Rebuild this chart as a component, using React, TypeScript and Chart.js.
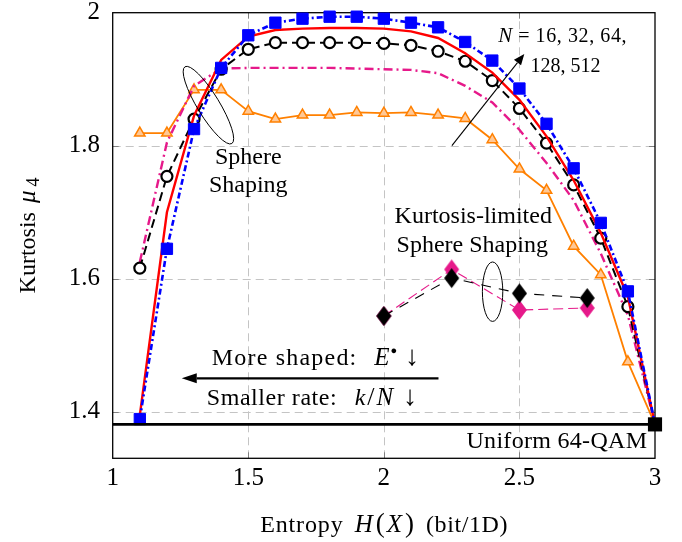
import { useEffect, useRef } from 'react';
import { Chart, registerables } from 'chart.js';

Chart.register(...registerables);

// ---- data ----
const entropy = [1.1, 1.2, 1.3, 1.4, 1.5, 1.6, 1.7, 1.8, 1.9, 2.0, 2.1, 2.2, 2.3, 2.4, 2.5, 2.6, 2.7, 2.8, 2.9, 3.0];
const kurtN512 = [1.389, 1.645, 1.825, 1.917, 1.966, 1.985, 1.991, 1.994, 1.994, 1.991, 1.985, 1.978, 1.956, 1.928, 1.886, 1.833, 1.766, 1.684, 1.581, 1.381];
const kurtN128 = [1.395, 1.700, 1.845, 1.929, 1.964, 1.974, 1.976, 1.977, 1.977, 1.976, 1.972, 1.962, 1.939, 1.910, 1.869, 1.814, 1.748, 1.669, 1.573, 1.381];
const kurtN64 = [1.616, 1.754, 1.840, 1.915, 1.945, 1.955, 1.955, 1.955, 1.955, 1.954, 1.951, 1.942, 1.927, 1.898, 1.856, 1.804, 1.741, 1.661, 1.558, 1.381];
const kurtN32 = [1.625, 1.805, 1.890, 1.916, 1.917, 1.917, 1.917, 1.917, 1.916, 1.915, 1.914, 1.909, 1.890, 1.865, 1.824, 1.774, 1.718, 1.638, 1.545, 1.381];
const kurtN16 = [1.819, 1.819, 1.884, 1.884, 1.852, 1.840, 1.846, 1.846, 1.850, 1.849, 1.850, 1.846, 1.841, 1.809, 1.765, 1.733, 1.649, 1.606, 1.475, 1.381];
const klssEntropy = [2.0, 2.25, 2.5, 2.75];
const klssBlack = [1.544, 1.601, 1.578, 1.571];
const klssMagenta = [1.544, 1.614, 1.553, 1.556];
const uniformEntropy = [1, 3];
const uniformKurtosis = [1.381, 1.381];
const xGridValues = [1.5, 2, 2.5];
const yGridValues = [1.4, 1.6, 1.8];

const SERIF = '"Liberation Serif", "Times New Roman", serif';
const MAGENTA = '#e6198a';
const ORANGE = '#ff8000';

const pts = (xs: number[], ys: number[]) => xs.map((x, i) => ({ x, y: ys[i] }));

function makeDiamond(color: string, w: number, h: number) {
  const c = document.createElement('canvas');
  c.width = w + 2;
  c.height = h + 2;
  const g = c.getContext('2d')!;
  g.fillStyle = color;
  g.beginPath();
  g.moveTo(w / 2 + 1, 1);
  g.lineTo(w + 1, h / 2 + 1);
  g.lineTo(w / 2 + 1, h + 1);
  g.lineTo(1, h / 2 + 1);
  g.closePath();
  g.fill();
  return c;
}

type Part = { t: string; it?: boolean; size?: number; dy?: number; ls?: number; gap?: number };

function drawParts(ctx: CanvasRenderingContext2D, parts: Part[], x: number, y: number, align: 'left' | 'center' | 'right', base = 24) {
  const fontOf = (p: Part) => `${p.it ? 'italic ' : ''}${p.size || base}px ${SERIF}`;
  const widthOf = (p: Part) => {
    ctx.font = fontOf(p);
    if (p.ls) {
      let w = 0;
      for (const ch of p.t) w += ctx.measureText(ch).width + p.ls;
      return w - p.ls;
    }
    return ctx.measureText(p.t).width;
  };
  const widths = parts.map((p) => widthOf(p) + (p.gap || 0));
  const total = widths.reduce((a, b) => a + b, 0);
  let cx = align === 'left' ? x : align === 'center' ? x - total / 2 : x - total;
  ctx.textAlign = 'left';
  ctx.textBaseline = 'alphabetic';
  parts.forEach((p, i) => {
    ctx.font = fontOf(p);
    if (p.ls) {
      let px = cx;
      for (const ch of p.t) {
        ctx.fillText(ch, px, y + (p.dy || 0));
        px += ctx.measureText(ch).width + p.ls;
      }
    } else {
      ctx.fillText(p.t, cx, y + (p.dy || 0));
    }
    cx += widths[i];
  });
}

function arrow(ctx: CanvasRenderingContext2D, x1: number, y1: number, x2: number, y2: number, lw: number, headLen: number, headHalf: number) {
  const ang = Math.atan2(y2 - y1, x2 - x1);
  const bx = x2 - Math.cos(ang) * headLen;
  const by = y2 - Math.sin(ang) * headLen;
  ctx.save();
  ctx.strokeStyle = '#000';
  ctx.fillStyle = '#000';
  ctx.lineWidth = lw;
  ctx.beginPath();
  ctx.moveTo(x1, y1);
  ctx.lineTo(bx, by);
  ctx.stroke();
  ctx.beginPath();
  ctx.moveTo(x2, y2);
  ctx.lineTo(bx + Math.sin(ang) * headHalf, by - Math.cos(ang) * headHalf);
  ctx.lineTo(bx - Math.sin(ang) * headHalf, by + Math.cos(ang) * headHalf);
  ctx.closePath();
  ctx.fill();
  ctx.restore();
}

const framePlugin = {
  id: 'frame',
  beforeDatasetsDraw(chart: any) {
    const { ctx, chartArea: a, scales } = chart;
    const xs = scales.x;
    const ys = scales.y;
    ctx.save();
    ctx.strokeStyle = '#c4c4c4';
    ctx.lineWidth = 1;
    ctx.setLineDash([8, 5]);
    xGridValues.forEach((v) => {
      const px = Math.round(xs.getPixelForValue(v)) + 0.5;
      ctx.beginPath();
      ctx.moveTo(px, a.bottom);
      ctx.lineTo(px, a.top);
      ctx.stroke();
    });
    yGridValues.forEach((v) => {
      const py = Math.round(ys.getPixelForValue(v)) + 0.5;
      ctx.beginPath();
      ctx.moveTo(a.left, py);
      ctx.lineTo(a.right, py);
      ctx.stroke();
    });
    ctx.setLineDash([]);
    ctx.strokeStyle = '#808080';
    xGridValues.forEach((v) => {
      const px = Math.round(xs.getPixelForValue(v)) + 0.5;
      ctx.beginPath();
      ctx.moveTo(px, a.bottom);
      ctx.lineTo(px, a.bottom - 6);
      ctx.moveTo(px, a.top);
      ctx.lineTo(px, a.top + 6);
      ctx.stroke();
    });
    yGridValues.forEach((v) => {
      const py = Math.round(ys.getPixelForValue(v)) + 0.5;
      ctx.beginPath();
      ctx.moveTo(a.left, py);
      ctx.lineTo(a.left + 6, py);
      ctx.moveTo(a.right, py);
      ctx.lineTo(a.right - 6, py);
      ctx.stroke();
    });
    ctx.strokeStyle = '#000';
    ctx.lineWidth = 1.3;
    ctx.strokeRect(a.left, a.top, a.right - a.left, a.bottom - a.top);
    ctx.restore();
  },
  afterDraw(chart: any) {
    const { ctx, chartArea: a, scales } = chart;
    const X = (v: number) => scales.x.getPixelForValue(v);
    const Y = (v: number) => scales.y.getPixelForValue(v);
    ctx.save();
    ctx.fillStyle = '#000';
    ctx.strokeStyle = '#000';

    // Ellipse around sphere-shaping curves
    ctx.lineWidth = 1;
    ctx.beginPath();
    ctx.ellipse(X(1.353), Y(1.861), 45, 11, (58.6 * Math.PI) / 180, 0, Math.PI * 2);
    ctx.stroke();
    drawParts(ctx, [{ t: 'Sphere' }], X(1.5), Y(1.772), 'center');
    drawParts(ctx, [{ t: 'Shaping' }], X(1.5), Y(1.730), 'center');

    // N arrow
    arrow(ctx, X(2.251), Y(1.8), X(2.518), Y(1.938), 1.1, 11, 4.5);
    drawParts(ctx, [{ t: 'N', it: true, size: 21, gap: 6 }, { t: '=', gap: 6 }, { t: '16, 32, 64,', ls: 0.6 }], X(2.422), Y(1.956), 'left', 20);
    drawParts(ctx, [{ t: '128, 512' }], X(2.541), Y(1.9113), 'left', 20);

    // Kurtosis-limited
    drawParts(ctx, [{ t: 'Kurtosis-limited' }], X(2.3296), Y(1.6833), 'center');
    drawParts(ctx, [{ t: 'Sphere Shaping' }], X(2.326), Y(1.6406), 'center');
    ctx.lineWidth = 1;
    ctx.beginPath();
    ctx.ellipse(X(2.401), Y(1.5805), 10.2, 29.7, 0, 0, Math.PI * 2);
    ctx.stroke();

    // More shaped / smaller rate
    drawParts(
      ctx,
      [
        { t: 'More shaped:', ls: 1.2, gap: 18 },
        { t: 'E', it: true, size: 25, gap: 1 },
        { t: '\u25cf', size: 11, dy: -11, gap: 8 },
        { t: '\u2193', size: 28 },
      ],
      X(1.3653),
      Y(1.4702),
      'left'
    );
    arrow(ctx, X(2.2015), Y(1.4502), X(1.2546), Y(1.4502), 2.4, 15, 5);
    drawParts(
      ctx,
      [
        { t: 'Smaller rate:', ls: 0.55, gap: 18 },
        { t: 'k', it: true, gap: 2 },
        { t: '/', size: 26, gap: 2 },
        { t: 'N', it: true, size: 25, gap: 10 },
        { t: '\u2193', size: 28 },
      ],
      X(1.347),
      Y(1.41),
      'left'
    );

    // Uniform label
    drawParts(ctx, [{ t: 'Uniform 64-QAM', ls: 0.3 }], X(2.9705), Y(1.345), 'right');

    // Axis titles
    drawParts(
      ctx,
      [
        { t: 'Entropy', ls: 0.85, gap: 12 },
        { t: 'H', it: true, size: 25, gap: 3 },
        { t: '(', size: 27, gap: 2 },
        { t: 'X', it: true, size: 25, gap: 3 },
        { t: ')', size: 27, gap: 12 },
        { t: '(bit/1D)', ls: 0.6 },
      ],
      (a.left + a.right) / 2,
      532,
      'center'
    );
    ctx.save();
    ctx.translate(35, (a.top + a.bottom) / 2);
    ctx.rotate(-Math.PI / 2);
    drawParts(ctx, [{ t: 'Kurtosis', gap: 9 }, { t: '\u03bc', it: true, size: 25, gap: 4 }, { t: '4', size: 18, dy: 4 }], 0, 0, 'center');
    ctx.restore();
    ctx.restore();
  },
};

export default function App() {
  const ref = useRef<HTMLCanvasElement>(null);
  useEffect(() => {
    if (!ref.current) return;
    const blackDiamond = makeDiamond('#000', 15, 20);
    const magentaDiamond = makeDiamond(MAGENTA, 15, 20);
    const chart = new Chart(ref.current, {
      type: 'line',
      data: {
        datasets: [
          {
            label: 'Uniform 64-QAM',
            data: pts(uniformEntropy, uniformKurtosis),
            borderColor: '#000',
            borderWidth: 2.8,
            pointStyle: 'rect',
            pointRadius: [0, 10],
            pointBackgroundColor: '#000',
            pointBorderWidth: 0,
            order: 0,
          },
          {
            label: 'KLSS black',
            data: pts(klssEntropy, klssBlack),
            borderColor: '#000',
            borderWidth: 1.1,
            borderDash: [10, 8],
            pointStyle: blackDiamond,
            order: 1,
          },
          {
            label: 'KLSS magenta',
            data: pts(klssEntropy, klssMagenta),
            borderColor: MAGENTA,
            borderWidth: 1.1,
            borderDash: [10, 5],
            pointStyle: magentaDiamond,
            order: 2,
          },
          {
            label: 'N=512',
            data: pts(entropy, kurtN512),
            borderColor: '#0000ff',
            borderWidth: 2.6,
            borderDash: [6, 3, 2, 3],
            pointStyle: 'rect',
            pointRadius: 8,
            pointBackgroundColor: '#0000ff',
            pointBorderColor: '#0000ff',
            pointBorderWidth: 1,
            order: 3,
          },
          {
            label: 'N=128',
            data: pts(entropy, kurtN128),
            borderColor: '#ff0000',
            borderWidth: 2.4,
            pointRadius: 0,
            order: 4,
          },
          {
            label: 'N=64',
            data: pts(entropy, kurtN64),
            borderColor: '#000',
            borderWidth: 2,
            borderDash: [9, 5],
            pointStyle: 'circle',
            pointRadius: 5.5,
            pointBackgroundColor: '#fff',
            pointBorderColor: '#000',
            pointBorderWidth: 2.2,
            order: 5,
          },
          {
            label: 'N=32',
            data: pts(entropy, kurtN32),
            borderColor: MAGENTA,
            borderWidth: 2.4,
            borderDash: [9, 4, 2, 4],
            pointRadius: 0,
            order: 6,
          },
          {
            label: 'N=16',
            data: pts(entropy, kurtN16),
            borderColor: ORANGE,
            borderWidth: 1.8,
            pointStyle: 'triangle',
            pointRadius: 6,
            pointBackgroundColor: 'rgba(255,200,150,1)',
            pointBorderColor: ORANGE,
            pointBorderWidth: 1.5,
            order: 7,
          },
        ].map((d: any) => ({ ...d, tension: 0, clip: false, fill: false })),
      },
      options: {
        animation: false,
        responsive: false,
        devicePixelRatio: 1,
        events: [],
        layout: { padding: { left: 0, right: 27, top: 12.7, bottom: 0 } },
        plugins: { legend: { display: false }, tooltip: { enabled: false }, title: { display: false } },
        scales: {
          x: {
            type: 'linear',
            min: 1,
            max: 3,
            grid: { display: false, drawTicks: false },
            border: { display: false },
            ticks: {
              stepSize: 0.5,
              padding: 4.7,
              color: '#000',
              maxRotation: 0,
              autoSkip: false,
              font: { family: SERIF, size: 25 },
              callback: (v: any) => String(Math.round(Number(v) * 10) / 10),
            },
            afterFit: (s: any) => {
              s.height = 83.7;
              s.paddingLeft = 0;
              s.paddingRight = 0;
            },
          },
          y: {
            type: 'linear',
            min: 1.33,
            max: 2,
            grid: { display: false, drawTicks: false },
            border: { display: false },
            ticks: {
              stepSize: 0.2,
              includeBounds: false,
              padding: 12.7,
              color: '#000',
              font: { family: SERIF, size: 25 },
              callback: (v: any) => String(Math.round(Number(v) * 10) / 10),
            },
            afterFit: (s: any) => {
              s.width = 112.7;
              s.paddingTop = 0;
              s.paddingBottom = 0;
            },
          },
        },
      } as any,
      plugins: [framePlugin],
    });
    return () => chart.destroy();
  }, []);
  return (
    <div style={{ position: 'absolute', left: 0, top: 0, width: 682, height: 542, background: '#fff' }}>
      <canvas ref={ref} width={682} height={542} />
    </div>
  );
}
